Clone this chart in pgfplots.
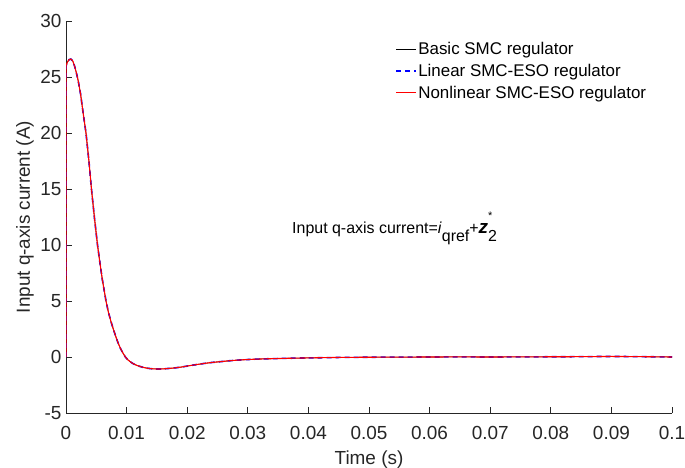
\documentclass[border=0pt]{standalone}
\usepackage{pgfplots}
\pgfplotsset{compat=1.18}
\usepackage{pgfplotstable}
\usepackage{fontspec}
\setmainfont{Liberation Sans}
\definecolor{axgray}{rgb}{0.15,0.15,0.15}
\pgfplotstableread{
t basic linear nonlinear
0 0 0 0
0.00001 26.0 26.0 26.0
0.0002 26.3 26.3 26.3
0.0005 26.55 26.55 26.55
0.0008 26.6 26.6 26.6
0.0011 26.45 26.45 26.45
0.0014 26.0 26.0 26.0
0.0017 25.4 25.4 25.4
0.0020 24.7 24.7 24.7
0.0024 23.5 23.5 23.5
0.0028 21.9 21.9 21.9
0.0033 20.0 20.0 20.0
0.0038 17.4 17.4 17.4
0.0042 15.0 15.0 15.0
0.0047 12.4 12.4 12.4
0.0052 10.0 10.0 10.0
0.0056 8.4 8.4 8.4
0.0060 6.9 6.9 6.9
0.0066 5.0 5.0 5.0
0.0070 4.0 4.0 4.0
0.0074 3.2 3.2 3.2
0.0078 2.5 2.5 2.5
0.0082 1.85 1.85 1.85
0.0086 1.25 1.25 1.25
0.0090 0.75 0.75 0.75
0.0094 0.35 0.35 0.35
0.0098 0.0 0.0 0.0
0.0102 -0.25 -0.25 -0.25
0.0106 -0.42 -0.42 -0.42
0.0110 -0.57 -0.57 -0.57
0.0114 -0.68 -0.68 -0.68
0.0118 -0.77 -0.77 -0.77
0.0122 -0.84 -0.84 -0.84
0.0127 -0.92 -0.92 -0.92
0.0132 -0.98 -0.98 -0.98
0.0138 -1.03 -1.03 -1.03
0.0144 -1.06 -1.06 -1.06
0.0150 -1.07 -1.07 -1.07
0.0156 -1.07 -1.07 -1.07
0.0163 -1.05 -1.05 -1.05
0.0170 -1.02 -1.02 -1.02
0.0180 -0.97 -0.97 -0.97
0.0190 -0.90 -0.90 -0.90
0.0200 -0.81 -0.81 -0.81
0.0210 -0.72 -0.72 -0.72
0.0220 -0.64 -0.64 -0.64
0.0230 -0.56 -0.56 -0.56
0.0242 -0.48 -0.48 -0.48
0.0254 -0.42 -0.42 -0.42
0.0267 -0.35 -0.35 -0.35
0.0280 -0.29 -0.29 -0.29
0.0295 -0.24 -0.24 -0.24
0.0310 -0.20 -0.20 -0.20
0.0325 -0.17 -0.17 -0.17
0.0340 -0.15 -0.15 -0.15
0.0370 -0.11 -0.11 -0.11
0.0400 -0.08 -0.08 -0.08
0.0450 -0.04 -0.04 -0.04
0.0500 -0.02 -0.02 -0.02
0.0550 -0.01 -0.01 -0.01
0.0600 0.0 0.0 0.0
0.0650 0.01 0.01 0.01
0.0700 0.0 0.0 0.0
0.0750 0.01 0.01 0.01
0.0800 0.02 0.02 0.02
0.0850 0.03 0.03 0.03
0.0900 0.05 0.05 0.05
0.0950 0.03 0.03 0.03
0.1000 0.0 0.0 0.0
}\datatable
\begin{document}
\begin{tikzpicture}
\path[use as bounding box] (-66bp,-55bp) rectangle (619bp,413bp);
\begin{axis}[
  at={(0,0)}, anchor=south west,
  width=606bp, height=392bp, scale only axis,
  xmin=0, xmax=0.1, ymin=-5, ymax=30,
  axis lines*=left,
  axis line style={axgray, line width=0.8bp},
  tick align=inside,
  major tick length=6bp,
  tick style={axgray, line width=0.8bp},
  xtick={0,0.01,0.02,0.03,0.04,0.05,0.06,0.07,0.08,0.09,0.1},
  xticklabels={0,0.01,0.02,0.03,0.04,0.05,0.06,0.07,0.08,0.09,0.1},
  ytick={-5,0,5,10,15,20,25,30},
  yticklabels={-5,0,5,10,15,20,25,30},
  scaled ticks=false,
  ticklabel style={font=\fontsize{19}{21}\selectfont, text=axgray},
  xticklabel style={yshift=-10bp},
  yticklabel style={xshift=-1bp},
  xlabel={Time (s)},
  ylabel={Input q-axis current (A)},
  label style={font=\fontsize{19}{21}\selectfont, text=axgray},
  xlabel style={at={(axis description cs:0.5,0)}, anchor=center, yshift=-47bp},
  ylabel style={at={(axis description cs:0,0.5)}, anchor=center, yshift=41bp},
  legend style={at={(0.965,0.955)}, anchor=north east, draw=none, fill=none,
    font=\fontsize{17}{19}\selectfont, row sep=5bp,
    nodes={inner sep=1.5bp}},
  legend cell align=left,
  legend image code/.code={\draw[#1] (0bp,0bp) -- (20bp,0bp);},
]
\addplot[black, line width=0.6bp] table[x=t, y=basic] {\datatable};
\addlegendentry{Basic SMC regulator}
\addplot[blue, line width=1.6bp, dash pattern=on 5bp off 4bp] table[x=t, y=linear] {\datatable};
\addlegendentry{Linear SMC-ESO regulator}
\addplot[red, line width=1.1bp] table[x=t, y=nonlinear] {\datatable};
\addlegendentry{Nonlinear SMC-ESO regulator}
\node[anchor=base west, inner sep=0pt, font=\fontsize{16}{18}\selectfont, text=black] at (axis cs:0.0373,11.0)
  {Input q-axis current=\textit{i}\raisebox{-8bp}{qref}+{\fontsize{19}{20}\selectfont\textbf{\textit{z}}}\rlap{\raisebox{14bp}{\fontsize{11}{12}\selectfont *}}\raisebox{-8bp}{2}};
\end{axis}
\end{tikzpicture}
\end{document}
